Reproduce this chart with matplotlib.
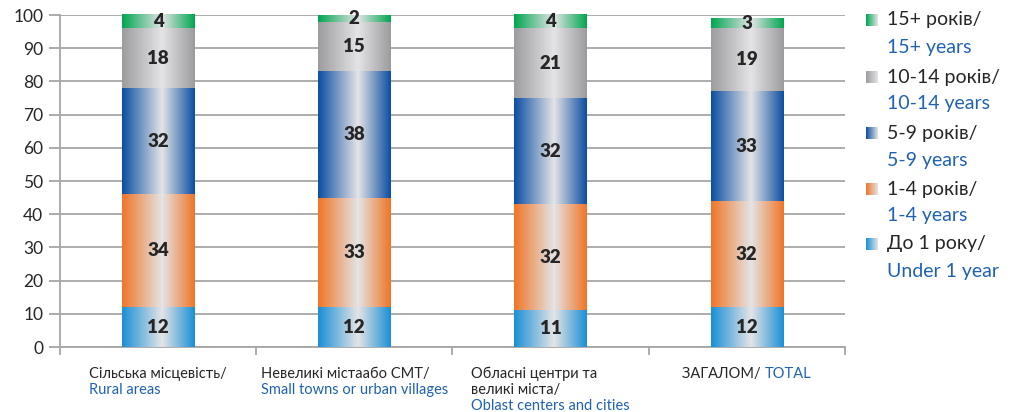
import numpy as np
import matplotlib.pyplot as plt
from matplotlib.colors import LinearSegmentedColormap
from matplotlib.transforms import IdentityTransform

plt.rcParams['font.family'] = ['Lato', 'DejaVu Sans']

# categories: ukrainian lines (dark) + english line (blue)
cat_ua = [['Сільська місцевість/'],
          ['Невеликі містаабо СМТ/'],
          ['Обласні центри та', 'великі міста/'],
          ['ЗАГАЛОМ/ ']]
cat_en = ['Rural areas', 'Small towns or urban villages',
          'Oblast centers and cities', 'TOTAL']

under_1 = [12, 12, 11, 12]
y_1_4 = [34, 33, 32, 32]
y_5_9 = [32, 38, 32, 33]
y_10_14 = [18, 15, 21, 19]
y_15 = [4, 2, 4, 3]

series = [under_1, y_1_4, y_5_9, y_10_14, y_15]
leg_ua = ['До 1 року/', '1-4 років/', '5-9 років/', '10-14 років/', '15+ років/']
leg_en = ['Under 1 year', '1-4 years', '5-9 years', '10-14 years', '15+ years']
colors = ['#1a8fd6', '#f07526', '#0b4ea2', '#9c9c9e', '#00a650']
light = '#e4e4e6'
dark_txt = '#262626'
blue_txt = '#1f62b2'
grid_c = '#a6a6a6'

fig = plt.figure(figsize=(10.14, 4.12), dpi=100)
ax = fig.add_axes([60 / 1014, 1 - 347 / 412, 785 / 1014, 332 / 412])

x = np.arange(len(cat_en))
width = 0.37
grad = np.linspace(0, 1, 256).reshape(1, -1)
bottom = np.zeros(len(x))
for vals, col in zip(series, colors):
    cmap = LinearSegmentedColormap.from_list('g', [(0, col), (0.55, light), (1, col)])
    bars = ax.bar(x, vals, width, bottom=bottom, color='none', edgecolor='none', zorder=3)
    for b, v in zip(bars, vals):
        x0, y0, w, h = b.get_x(), b.get_y(), b.get_width(), b.get_height()
        ax.imshow(grad, extent=[x0, x0 + w, y0, y0 + h], cmap=cmap,
                  aspect='auto', zorder=3, interpolation='bilinear', clip_on=False)
        ax.text(x0 + w / 2, y0 + h / 2, str(v), ha='center', va='center',
                fontsize=13.5, fontweight='heavy', color=dark_txt, zorder=4)
    bottom += vals

ax.set_xlim(-0.5, len(x) - 0.5)
ax.set_ylim(0, 100)
ax.set_yticks(np.arange(0, 101, 10))
ax.yaxis.grid(True, color=grid_c, lw=1.3, zorder=0)
ax.set_axisbelow(True)
for s in ['top', 'right']:
    ax.spines[s].set_visible(False)
for s in ['left', 'bottom']:
    ax.spines[s].set_color(grid_c)
    ax.spines[s].set_linewidth(1.3)
ax.tick_params(axis='y', length=8, color=grid_c, width=1.3, labelsize=12.5,
               labelcolor=dark_txt, pad=4)
ax.set_xticks(np.arange(-0.5, len(x)), [''] * (len(x) + 1))
ax.tick_params(axis='x', length=6, color=grid_c, width=1.3)

# category labels: block centred under each bar, lines left-aligned
fig.canvas.draw()
r = fig.canvas.get_renderer()
H = fig.bbox.height
top_px = 367
step = 16
fs = 10.5
for i in range(len(x)):
    cx = ax.transData.transform((i, 0))[0]
    lines = [(t, dark_txt) for t in cat_ua[i]]
    if i == 3:
        t1 = fig.text(0, 0, cat_ua[i][0], fontsize=fs, color=dark_txt,
                      transform=IdentityTransform(), va='top')
        t2 = fig.text(0, 0, cat_en[i], fontsize=fs, color=blue_txt,
                      transform=IdentityTransform(), va='top')
        w1 = t1.get_window_extent(r).width
        w2 = t2.get_window_extent(r).width
        left = cx - (w1 + w2) / 2
        t1.set_position((left, H - top_px))
        t2.set_position((left + w1, H - top_px))
        continue
    lines.append((cat_en[i], blue_txt))
    txts = [fig.text(0, 0, t, fontsize=fs, color=c, transform=IdentityTransform(), va='top')
            for t, c in lines]
    wmax = max(t.get_window_extent(r).width for t in txts)
    for k, t in enumerate(txts):
        t.set_position((cx - wmax / 2, H - top_px - k * step))

# legend, top entry first
leg_y = [20, 77, 133, 189, 244]
for k, idx in enumerate(range(len(series) - 1, -1, -1)):
    yc = leg_y[k]
    sq = fig.add_axes([866 / 1014, 1 - (yc + 6) / 412, 11 / 1014, 12 / 412])
    cm = LinearSegmentedColormap.from_list('l', [colors[idx], light])
    sq.imshow(grad, cmap=cm, aspect='auto', interpolation='bilinear')
    sq.axis('off')
    fig.text(887 / 1014, 1 - yc / 412, leg_ua[idx], fontsize=14, color=dark_txt, va='center')
    fig.text(887 / 1014, 1 - (yc + 27) / 412, leg_en[idx], fontsize=14, color=blue_txt, va='center')

fig.savefig('out.png', dpi=100)
